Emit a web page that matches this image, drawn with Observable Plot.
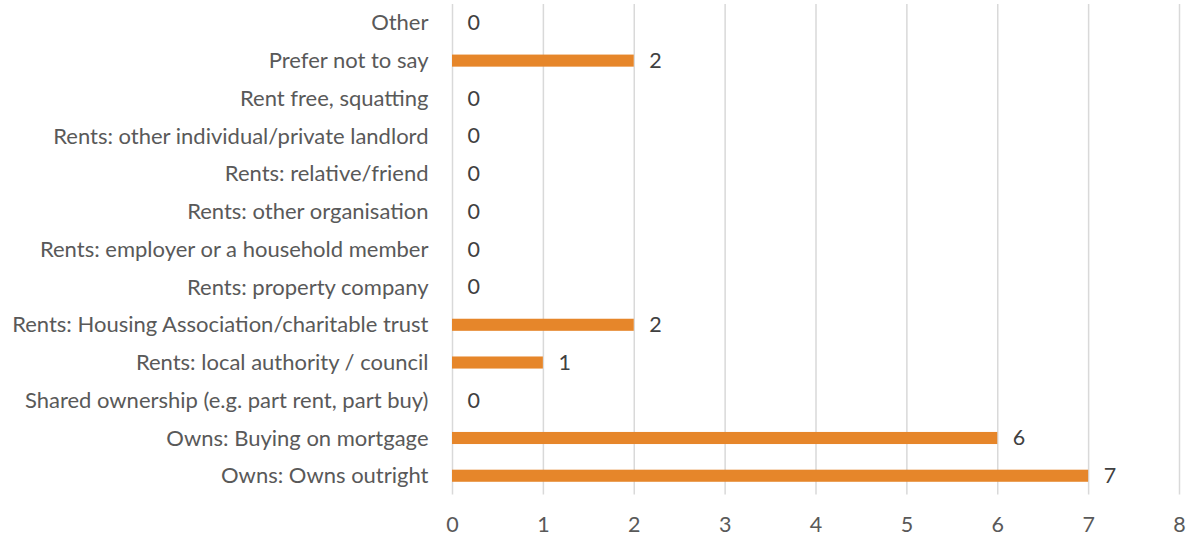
<!DOCTYPE html>
<html>
<head>
<meta charset="utf-8">
<script src="https://cdn.jsdelivr.net/npm/d3@7"></script>
<script src="https://cdn.jsdelivr.net/npm/@observablehq/plot@0.6"></script>
<style>
  html, body { margin: 0; padding: 0; background: #fff; }
  #chart svg { display: block; }
</style>
</head>
<body>
<div id="chart"></div>
<script>
const categories = [
  "Other",
  "Prefer not to say",
  "Rent free, squatting",
  "Rents: other individual/private landlord",
  "Rents: relative/friend",
  "Rents: other organisation",
  "Rents: employer or a household member",
  "Rents: property company",
  "Rents: Housing Association/charitable trust",
  "Rents: local authority / council",
  "Shared ownership (e.g. part rent, part buy)",
  "Owns: Buying on mortgage",
  "Owns: Owns outright"
];
const values = [0, 2, 0, 0, 0, 0, 0, 0, 2, 1, 0, 6, 7];
const xTicks = [0, 1, 2, 3, 4, 5, 6, 7, 8];

const data = categories.map((c, i) => ({category: c, value: values[i]}));

const chart = Plot.plot({
  width: 1193,
  height: 538,
  marginLeft: 452,
  marginRight: 14,
  marginTop: 4,
  marginBottom: 43.4,
  style: {fontFamily: "Lato, 'Open Sans', sans-serif", fontSize: "22px", color: "#595959", background: "#fff"},
  x: {domain: [0, 8], ticks: xTicks, label: null},
  y: {domain: categories, paddingInner: 0.68, paddingOuter: 0.34, round: false, label: null},
  marks: [
    Plot.gridX(xTicks, {stroke: "#d9d9d9", strokeOpacity: 1, strokeWidth: 1.5}),
    Plot.barX(data, {x: "value", y: "category", fill: "#E6862A"}),
    Plot.text(data, {x: "value", y: "category", text: d => String(d.value), textAnchor: "start", dx: 15, fill: "#404040", fontSize: 21.5}),
    Plot.axisY({tickSize: 0, tickPadding: 24, fontSize: 22, fill: "#595959", label: null}),
    Plot.axisX({ticks: xTicks, tickSize: 0, tickPadding: 22, fontSize: 21.5, fill: "#595959", label: null})
  ]
});
document.getElementById("chart").appendChild(chart);
</script>
</body>
</html>
